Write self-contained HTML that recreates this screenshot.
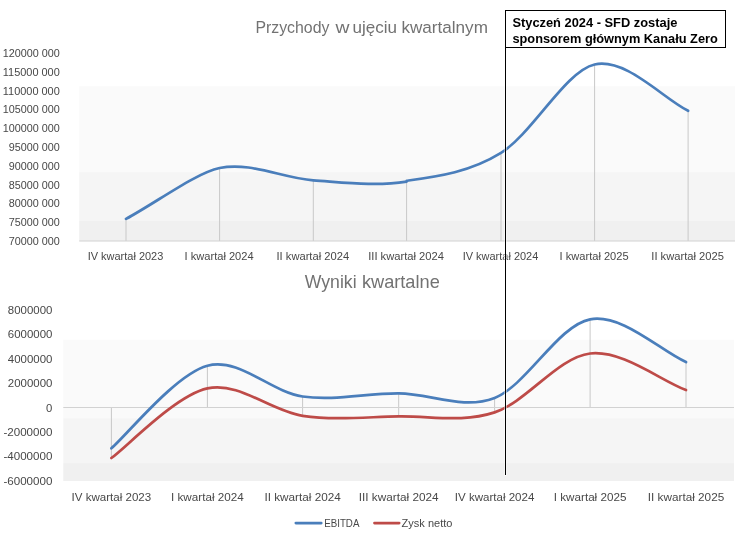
<!DOCTYPE html>
<html lang="pl"><head><meta charset="utf-8"><title>Przychody i wyniki kwartalne</title>
<style>html,body{margin:0;padding:0;background:#fff;overflow:hidden}svg{display:block;will-change:transform}text{font-family:"Liberation Sans", "DejaVu Sans", sans-serif}.l{font-size:10.75px;fill:#484848}.m{font-size:11.3px;fill:#484848}.u{font-size:17.7px;fill:#727272}.t{font-size:16.7px;fill:#727272}.b{font-size:12.85px;font-weight:bold;fill:#000}</style></head><body>
<svg width="756" height="545" viewBox="0 0 756 545">
<rect width="756" height="545" fill="#fff"/>
<rect x="79.2" y="86.2" width="655.8" height="85.9" fill="#fafafa"/>
<rect x="79.2" y="172.1" width="655.8" height="48.9" fill="#f5f5f5"/>
<rect x="79.2" y="221.0" width="655.8" height="20.0" fill="#f0f0f0"/>
<rect x="63.3" y="339.7" width="670.7" height="78.5" fill="#fafafa"/>
<rect x="63.3" y="418.2" width="670.7" height="44.9" fill="#f5f5f5"/>
<rect x="63.3" y="463.1" width="670.7" height="17.9" fill="#f0f0f0"/>
<line x1="126.0" y1="218.9" x2="126.0" y2="241.0" stroke="#c8c8c8" stroke-width="1"/>
<line x1="219.6" y1="168.0" x2="219.6" y2="241.0" stroke="#c8c8c8" stroke-width="1"/>
<line x1="313.3" y1="180.3" x2="313.3" y2="241.0" stroke="#c8c8c8" stroke-width="1"/>
<line x1="406.6" y1="181.0" x2="406.6" y2="241.0" stroke="#c8c8c8" stroke-width="1"/>
<line x1="501.0" y1="152.9" x2="501.0" y2="241.0" stroke="#c8c8c8" stroke-width="1"/>
<line x1="594.6" y1="64.5" x2="594.6" y2="241.0" stroke="#c8c8c8" stroke-width="1"/>
<line x1="688.1" y1="110.8" x2="688.1" y2="241.0" stroke="#c8c8c8" stroke-width="1"/>
<line x1="79.2" y1="241.0" x2="735.0" y2="241.0" stroke="#d2d2d2" stroke-width="1"/>
<path d="M126.00 218.90 C157.20 201.93 196.19 172.82 219.60 168.00 C250.82 161.57 282.13 178.13 313.30 180.30 C344.47 182.47 375.32 186.57 406.60 181.60 M406.60 180.80 C437.88 176.43 469.67 172.32 501.00 152.90 C532.33 133.48 565.60 70.98 594.60 64.45 C625.78 57.43 662.86 98.29 688.10 110.80" fill="none" stroke="#4a7ebb" stroke-width="2.7" stroke-linecap="round" stroke-linejoin="round"/>
<line x1="111.4" y1="407.5" x2="111.4" y2="458.0" stroke="#c8c8c8" stroke-width="1"/>
<line x1="207.4" y1="365.8" x2="207.4" y2="407.5" stroke="#c8c8c8" stroke-width="1"/>
<line x1="302.6" y1="396.5" x2="302.6" y2="415.8" stroke="#c8c8c8" stroke-width="1"/>
<line x1="398.7" y1="393.3" x2="398.7" y2="416.4" stroke="#c8c8c8" stroke-width="1"/>
<line x1="494.6" y1="397.9" x2="494.6" y2="412.4" stroke="#c8c8c8" stroke-width="1"/>
<line x1="590.1" y1="319.3" x2="590.1" y2="407.5" stroke="#c8c8c8" stroke-width="1"/>
<line x1="686.0" y1="362.1" x2="686.0" y2="407.5" stroke="#c8c8c8" stroke-width="1"/>
<line x1="63.3" y1="407.5" x2="734.0" y2="407.5" stroke="#d2d2d2" stroke-width="1"/>
<path d="M111.40 458.00 C127.40 446.40 175.53 395.43 207.40 388.40 C239.27 381.37 270.72 411.13 302.60 415.80 C334.48 420.47 366.70 416.97 398.70 416.40 C430.70 415.83 462.70 422.88 494.60 412.40 C526.50 401.92 558.20 357.22 590.10 353.50 C622.00 349.78 660.11 380.22 686.00 390.10" fill="none" stroke="#be4b48" stroke-width="2.7" stroke-linecap="round" stroke-linejoin="round"/>
<path d="M111.40 448.30 C127.40 434.55 175.53 374.43 207.40 365.80 C239.27 357.17 270.72 391.92 302.60 396.50 C334.48 401.08 366.70 393.07 398.70 393.30 C430.70 393.53 462.70 410.23 494.60 397.90 C526.50 385.57 558.20 325.27 590.10 319.30 C622.00 313.33 660.11 350.54 686.00 362.10" fill="none" stroke="#4a7ebb" stroke-width="2.7" stroke-linecap="round" stroke-linejoin="round"/>
<text class="t" y="32.5"><tspan x="255.4" textLength="74.0" lengthAdjust="spacingAndGlyphs">Przychody</tspan> <tspan x="335.4" textLength="14.0" lengthAdjust="spacingAndGlyphs">w</tspan> <tspan x="352.6" textLength="44.5" lengthAdjust="spacingAndGlyphs">ujęciu</tspan> <tspan x="401.4" textLength="86.5" lengthAdjust="spacingAndGlyphs">kwartalnym</tspan></text>
<text class="u" y="288.0"><tspan x="304.8" textLength="51.8" lengthAdjust="spacingAndGlyphs">Wyniki</tspan> <tspan x="361.9" textLength="77.9" lengthAdjust="spacingAndGlyphs">kwartalne</tspan></text>
<text class="l" x="59.8" y="57.0" text-anchor="end" textLength="57.0" lengthAdjust="spacingAndGlyphs">120000 000</text>
<text class="l" x="59.8" y="75.8" text-anchor="end" textLength="57.0" lengthAdjust="spacingAndGlyphs">115000 000</text>
<text class="l" x="59.8" y="94.6" text-anchor="end" textLength="57.0" lengthAdjust="spacingAndGlyphs">110000 000</text>
<text class="l" x="59.8" y="113.4" text-anchor="end" textLength="57.0" lengthAdjust="spacingAndGlyphs">105000 000</text>
<text class="l" x="59.8" y="132.2" text-anchor="end" textLength="57.0" lengthAdjust="spacingAndGlyphs">100000 000</text>
<text class="l" x="59.8" y="151.0" text-anchor="end" textLength="51.0" lengthAdjust="spacingAndGlyphs">95000 000</text>
<text class="l" x="59.8" y="169.8" text-anchor="end" textLength="51.0" lengthAdjust="spacingAndGlyphs">90000 000</text>
<text class="l" x="59.8" y="188.6" text-anchor="end" textLength="51.0" lengthAdjust="spacingAndGlyphs">85000 000</text>
<text class="l" x="59.8" y="207.4" text-anchor="end" textLength="51.0" lengthAdjust="spacingAndGlyphs">80000 000</text>
<text class="l" x="59.8" y="226.2" text-anchor="end" textLength="51.0" lengthAdjust="spacingAndGlyphs">75000 000</text>
<text class="l" x="59.8" y="245.0" text-anchor="end" textLength="51.0" lengthAdjust="spacingAndGlyphs">70000 000</text>
<text class="m" x="52.4" y="314.0" text-anchor="end" textLength="44.6" lengthAdjust="spacingAndGlyphs">8000000</text>
<text class="m" x="52.4" y="338.0" text-anchor="end" textLength="44.6" lengthAdjust="spacingAndGlyphs">6000000</text>
<text class="m" x="52.4" y="363.0" text-anchor="end" textLength="44.6" lengthAdjust="spacingAndGlyphs">4000000</text>
<text class="m" x="52.4" y="387.0" text-anchor="end" textLength="44.6" lengthAdjust="spacingAndGlyphs">2000000</text>
<text class="m" x="52.4" y="412.0" text-anchor="end">0</text>
<text class="m" x="52.4" y="436.0" text-anchor="end" textLength="49.0" lengthAdjust="spacingAndGlyphs">-2000000</text>
<text class="m" x="52.4" y="460.0" text-anchor="end" textLength="49.0" lengthAdjust="spacingAndGlyphs">-4000000</text>
<text class="m" x="52.4" y="485.0" text-anchor="end" textLength="49.0" lengthAdjust="spacingAndGlyphs">-6000000</text>
<text class="l" x="125.5" y="259.8" text-anchor="middle" textLength="75.6" lengthAdjust="spacingAndGlyphs">IV kwartał 2023</text>
<text class="m" x="111.4" y="500.7" text-anchor="middle" textLength="79.6" lengthAdjust="spacingAndGlyphs">IV kwartał 2023</text>
<text class="l" x="219.1" y="259.8" text-anchor="middle" textLength="69.0" lengthAdjust="spacingAndGlyphs">I kwartał 2024</text>
<text class="m" x="207.4" y="500.7" text-anchor="middle" textLength="72.7" lengthAdjust="spacingAndGlyphs">I kwartał 2024</text>
<text class="l" x="312.8" y="259.8" text-anchor="middle" textLength="72.6" lengthAdjust="spacingAndGlyphs">II kwartał 2024</text>
<text class="m" x="302.6" y="500.7" text-anchor="middle" textLength="76.4" lengthAdjust="spacingAndGlyphs">II kwartał 2024</text>
<text class="l" x="406.1" y="259.8" text-anchor="middle" textLength="75.8" lengthAdjust="spacingAndGlyphs">III kwartał 2024</text>
<text class="m" x="398.7" y="500.7" text-anchor="middle" textLength="79.8" lengthAdjust="spacingAndGlyphs">III kwartał 2024</text>
<text class="l" x="500.5" y="259.8" text-anchor="middle" textLength="75.6" lengthAdjust="spacingAndGlyphs">IV kwartał 2024</text>
<text class="m" x="494.6" y="500.7" text-anchor="middle" textLength="79.6" lengthAdjust="spacingAndGlyphs">IV kwartał 2024</text>
<text class="l" x="594.1" y="259.8" text-anchor="middle" textLength="69.0" lengthAdjust="spacingAndGlyphs">I kwartał 2025</text>
<text class="m" x="590.1" y="500.7" text-anchor="middle" textLength="72.7" lengthAdjust="spacingAndGlyphs">I kwartał 2025</text>
<text class="l" x="687.6" y="259.8" text-anchor="middle" textLength="72.6" lengthAdjust="spacingAndGlyphs">II kwartał 2025</text>
<text class="m" x="686.0" y="500.7" text-anchor="middle" textLength="76.4" lengthAdjust="spacingAndGlyphs">II kwartał 2025</text>
<line x1="295.8" y1="523.1" x2="321.3" y2="523.1" stroke="#4a7ebb" stroke-width="2.6" stroke-linecap="round"/>
<text class="m" x="324.2" y="526.9" text-anchor="start" textLength="35.2" lengthAdjust="spacingAndGlyphs">EBITDA</text>
<line x1="374.4" y1="523.1" x2="399.2" y2="523.1" stroke="#be4b48" stroke-width="2.6" stroke-linecap="round"/>
<text class="m" x="401.6" y="526.9" text-anchor="start" textLength="50.8" lengthAdjust="spacingAndGlyphs">Zysk netto</text>
<line x1="505.5" y1="48" x2="505.5" y2="476" stroke="#fff" stroke-opacity="0.55" stroke-width="2.6"/>
<line x1="505.5" y1="48" x2="505.5" y2="475" stroke="#000" stroke-width="1"/>
<rect x="505.5" y="10.5" width="220" height="37" fill="#fff" stroke="#000" stroke-width="1"/>
<text class="b" x="512.4" y="26.8" text-anchor="start" textLength="165.0" lengthAdjust="spacingAndGlyphs">Styczeń 2024 - SFD zostaje</text>
<text class="b" x="512.4" y="42.6" text-anchor="start" textLength="205.4" lengthAdjust="spacingAndGlyphs">sponsorem głównym Kanału Zero</text>
</svg></body></html>
